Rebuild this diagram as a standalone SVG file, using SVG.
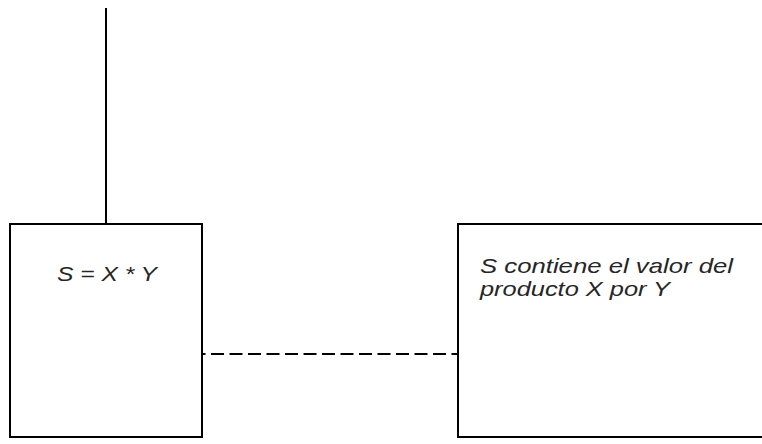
<svg xmlns="http://www.w3.org/2000/svg" width="762" height="444" viewBox="0 0 762 444">
  <style>
    .box { fill: #ffffff; stroke: #000000; stroke-width: 2; }
    .wire { fill: none; stroke: #000000; stroke-width: 2; }
    .dash { stroke-dasharray: 13 5.5; stroke-dashoffset: 9.5; }
    .label { font-family: "Liberation Sans", Arial, sans-serif; font-style: italic; font-size: 21px; fill: #262626; }
  </style>
  <rect width="762" height="444" fill="#ffffff"/>
  <g id="connectors">
    <line class="wire" x1="106" y1="8" x2="106" y2="224"/>
    <line class="wire dash" x1="202" y1="354" x2="458" y2="354"/>
  </g>
  <g id="process">
    <rect class="box" x="10" y="224" width="192" height="213"/>
    <text class="label" x="57" y="281" textLength="100" lengthAdjust="spacingAndGlyphs">S = X * Y</text>
  </g>
  <g id="note">
    <rect class="box" x="458" y="224" width="320" height="213"/>
    <text class="label" x="480" y="273" textLength="253" lengthAdjust="spacingAndGlyphs">S contiene el valor del</text>
    <text class="label" x="480" y="296" textLength="190" lengthAdjust="spacingAndGlyphs">producto X por Y</text>
  </g>
</svg>
